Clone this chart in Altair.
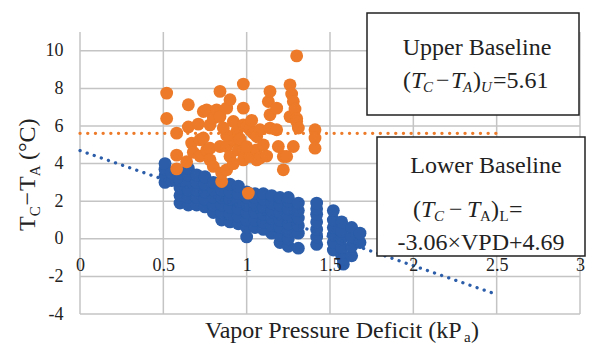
import altair as alt
import pandas as pd

SERIF = "Liberation Serif"
BLUE = "#2B5DA9"
ORANGE = "#EC7A28"
GRID = "#C4C4C4"
INK = "#222222"

# ---- data -----------------------------------------------------------
x_ticks = [0, 0.5, 1, 1.5, 2, 2.5, 3]
y_ticks = [-4, -2, 0, 2, 4, 6, 8, 10]

# lower group (transpiring) read column by column: (VPD, [Tc-Ta values])
blue_columns = [
    (0.51, [3.0, 3.35, 3.7, 4.0]),
    (0.55, [3.1, 3.5]),
    (0.60, [1.9, 2.3, 2.7, 3.1, 3.5]),
    (0.65, [1.8, 2.2, 2.6, 3.0, 3.4, 3.75]),
    (0.70, [1.8, 2.2, 2.6, 3.0, 3.4]),
    (0.75, [1.7, 2.1, 2.5, 2.9, 3.3]),
    (0.80, [1.4, 1.8, 2.2, 2.6, 3.0]),
    (0.85, [1.0, 1.4, 1.8, 2.2, 2.6, 3.0]),
    (0.90, [0.9, 1.3, 1.7, 2.1, 2.5, 2.9]),
    (0.95, [0.8, 1.2, 1.6, 2.0, 2.4, 2.8]),
    (1.00, [0.1, 0.6, 1.0, 1.4, 1.8, 2.2, 2.5]),
    (1.05, [0.6, 1.0, 1.4, 1.8, 2.2, 2.4]),
    (1.10, [0.5, 0.9, 1.3, 1.7, 2.1, 2.4]),
    (1.15, [0.3, 0.7, 1.1, 1.5, 1.9, 2.3]),
    (1.20, [-0.2, 0.2, 0.6, 1.0, 1.4, 1.8, 2.2]),
    (1.25, [-0.4, 0.0, 0.4, 0.8, 1.2, 1.6, 2.0, 2.2]),
    (1.31, [-0.5, 0.3, 0.7, 1.1, 1.5, 1.9]),
    (1.42, [-0.3, 0.1, 0.5, 0.9, 1.3, 1.6, 1.9]),
    (1.52, [-0.6, -0.2, 0.2, 0.6, 1.0, 1.5]),
    (1.57, [-0.9, -0.5, 0.0, 0.4, 0.9]),
    (1.58, [-1.35, -1.1]),
    (1.63, [-0.9, -0.4, 0.1, 0.6]),
    (1.68, [-0.2, 0.3]),
]
blue_x = [x for x, ys in blue_columns for _ in ys]
blue_y = [y for _, ys in blue_columns for y in ys]

# upper group (non-transpiring)
orange_x = [0.52, 0.52, 0.58, 0.58, 0.58, 0.64, 0.65, 0.65, 0.67, 0.68, 0.71, 0.72,
            0.72, 0.74, 0.74, 0.76, 0.76, 0.78, 0.78, 0.78, 0.80, 0.80, 0.82, 0.84,
            0.84, 0.84, 0.85, 0.85, 0.88, 0.88, 0.88, 0.90, 0.90, 0.92, 0.92, 0.94,
            0.95, 0.98, 0.98, 0.98, 0.98, 0.98, 1.00, 1.01, 1.02, 1.02, 1.04, 1.06,
            1.06, 1.06, 1.08, 1.08, 1.13, 1.14, 1.14, 1.14, 1.18, 1.18, 1.19, 1.22,
            1.22, 1.24, 1.26, 1.26, 1.27, 1.28, 1.28, 1.29, 1.30, 1.30, 1.30, 1.31,
            1.41, 1.41, 1.41, 0.88, 0.92, 0.96, 1.00, 1.03, 0.86, 1.10, 1.12]
orange_y = [7.75, 6.40, 5.62, 4.45, 3.72, 4.10, 7.13, 5.95, 5.09, 4.60, 6.10, 5.27,
            4.40, 5.36, 6.77, 6.86, 4.73, 6.06, 4.82, 4.20, 6.42, 3.85, 6.86, 7.84,
            6.50, 4.91, 3.05, 3.50, 6.95, 4.91, 3.67, 7.40, 4.38, 6.24, 5.27, 5.70,
            4.73, 8.23, 6.95, 6.06, 4.73, 4.20, 5.97, 2.43, 5.80, 4.38, 5.62, 5.44,
            4.73, 4.20, 4.30, 5.80, 7.30, 7.84, 6.60, 5.89, 6.95, 5.80, 4.91, 4.38,
            3.67, 4.38, 8.19, 6.50, 7.70, 7.30, 4.91, 6.90, 9.73, 6.40, 6.24, 5.89,
            5.80, 5.36, 4.82, 5.50, 4.00, 5.30, 4.90, 6.30, 5.90, 5.00, 4.40]

line_x = [0, 2.5]
upper_line_y = [5.61, 5.61]
lower_line_y = [4.69, -2.96]

# ---- chart ----------------------------------------------------------
W, H = 500, 282
xs = alt.Scale(domain=[0, 3], nice=False, zero=False)
ys = alt.Scale(domain=[-4, 11], nice=False, zero=False)

x_axis = alt.Axis(values=x_ticks, title=None, grid=False, domain=False, ticks=False,
                  tickSize=0, labelPadding=18, labelFont=SERIF, labelFontSize=18,
                  labelColor=INK, labelFlush=False, labelOverlap=False,
                  labelExpr="'' + datum.value", offset=-75.2, zindex=2)
y_axis = alt.Axis(values=y_ticks, title=None, grid=False, domain=False, ticks=False,
                  tickSize=0, labelPadding=17, labelFont=SERIF, labelFontSize=18,
                  labelColor=INK, labelOverlap=False, labelExpr="'' + datum.value")

vgrid = alt.Chart(pd.DataFrame({"x": x_ticks})).mark_rule(
    color=GRID, strokeWidth=1.5).encode(x=alt.X("x:Q", scale=xs, axis=x_axis))
hgrid = alt.Chart(pd.DataFrame({"y": y_ticks})).mark_rule(
    color=GRID, strokeWidth=1.5).encode(y=alt.Y("y:Q", scale=ys, axis=y_axis))

blue = alt.Chart(pd.DataFrame({"x": blue_x, "y": blue_y})).mark_circle(
    size=165, opacity=1, color=BLUE).encode(
    x=alt.X("x:Q", scale=xs), y=alt.Y("y:Q", scale=ys))
orange = alt.Chart(pd.DataFrame({"x": orange_x, "y": orange_y})).mark_circle(
    size=165, opacity=1, color=ORANGE).encode(
    x=alt.X("x:Q", scale=xs), y=alt.Y("y:Q", scale=ys))

upper_line = alt.Chart(pd.DataFrame({"x": line_x, "y": upper_line_y})).mark_line(
    color=ORANGE, strokeWidth=3.3, strokeDash=[0.1, 7.6], strokeCap="round").encode(
    x=alt.X("x:Q", scale=xs), y=alt.Y("y:Q", scale=ys))
lower_line = alt.Chart(pd.DataFrame({"x": line_x, "y": lower_line_y})).mark_line(
    color=BLUE, strokeWidth=3.3, strokeDash=[0.1, 7.4], strokeCap="round").encode(
    x=alt.X("x:Q", scale=xs), y=alt.Y("y:Q", scale=ys))

one = pd.DataFrame({"a": [0]})


def txt(s, x, y, size=24, italic=False, align="left", angle=None):
    kw = dict(text=s, font=SERIF, fontSize=size, align=align,
              baseline="alphabetic", color=INK)
    if italic:
        kw["fontStyle"] = "italic"
    if angle is not None:
        kw["angle"] = angle
    return alt.Chart(one).mark_text(**kw).encode(x=alt.value(x), y=alt.value(y))


def box(x1, x2, y1, y2):
    return alt.Chart(one).mark_rect(fill="white", stroke=INK, strokeWidth=1.5).encode(
        x=alt.value(x1), x2=alt.value(x2), y=alt.value(y1), y2=alt.value(y2))


texts = [
    # y title  T_C - T_A (°C)
    txt("T", -45, 199, angle=270),
    txt("C", -40, 184.3, size=15, angle=270),
    txt("−", -45, 173.5, angle=270),
    txt("T", -45, 159, angle=270),
    txt("A", -40, 144.3, size=15, angle=270),
    txt("(°C)", -45, 128, angle=270),
    # x title
    txt("Vapor Pressure Deficit (kP", 125, 306),
    txt("a", 384, 310, size=15),
    txt(")", 391, 306),
    # upper box
    txt("Upper Baseline", 397, 23, align="center"),
    txt("(", 323, 56),
    txt("T", 331, 56, italic=True),
    txt("C", 343, 60, size=15, italic=True),
    txt("−", 356, 56),
    txt("T", 371, 56, italic=True),
    txt("A", 383, 60, size=15, italic=True),
    txt(")", 393, 56),
    txt("U", 401, 60, size=15, italic=True),
    txt("=5.61", 413, 56),
    # lower box
    txt("Lower Baseline", 406, 141, align="center"),
    txt("(", 333, 185),
    txt("T", 341, 185, italic=True),
    txt("C", 354, 189, size=15, italic=True),
    txt("−", 369, 185),
    txt("T", 387, 185, italic=True),
    txt("A", 400, 189, size=15),
    txt(")", 411, 185),
    txt("L", 419.5, 189, size=15),
    txt("=", 429, 185),
    txt("-3.06×VPD+4.69", 401, 218, align="center"),
]

chart = alt.layer(
    vgrid, hgrid, blue, orange, upper_line, lower_line,
    box(287, 499, -19, 83), box(297, 505, 105, 224),
    *texts,
).properties(
    width=W, height=H, autosize="none",
    padding={"left": 80, "top": 32, "right": 17, "bottom": 29},
    background="white",
).configure_view(stroke=None)

chart.save("out.html", embed_options={"renderer": "svg", "actions": False})
